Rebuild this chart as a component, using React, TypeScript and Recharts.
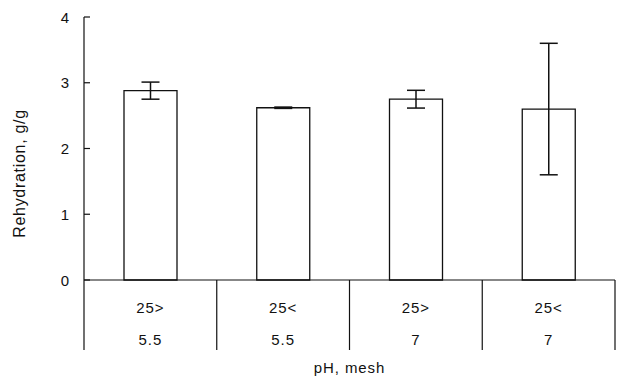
import { BarChart, Bar, ErrorBar, XAxis, YAxis } from "recharts";

const meshLabels = ["25>", "25<", "25>", "25<"];
const phLabels = ["5.5", "5.5", "7", "7"];
const rehydration = [2.88, 2.62, 2.75, 2.6];
const rehydrationErr = [0.13, 0.01, 0.135, 1.0];
const yTicks = [0, 1, 2, 3, 4];

const data = meshLabels.map((mesh, i) => ({
  name: `${mesh} ${phLabels[i]}`,
  mesh,
  ph: phLabels[i],
  value: rehydration[i],
  err: rehydrationErr[i],
}));

const FONT = "'Liberation Sans', Arial, sans-serif";
const INK = "#111";
const textStyle = { fontSize: 15, fontFamily: FONT, fill: INK, letterSpacing: 0.9 };

function CategoryTick(props: any) {
  const { x, y, payload, index } = props;
  const half = payload?.offset ?? 66.4;
  const row = data[index] ?? data[payload?.index ?? 0];
  const last = index === data.length - 1;
  return (
    <g>
      <line x1={x - half} y1={y} x2={x - half} y2={y + 70} stroke={INK} strokeWidth={1.2} />
      {last && (
        <line x1={x + half} y1={y} x2={x + half} y2={y + 70} stroke={INK} strokeWidth={1.2} />
      )}
      <text x={x} y={y + 33} textAnchor="middle" style={textStyle}>
        {row.mesh}
      </text>
      <text x={x} y={y + 65} textAnchor="middle" style={textStyle}>
        {row.ph}
      </text>
    </g>
  );
}

function ValueTick(props: any) {
  const { x, y, payload } = props;
  return (
    <g>
      <line x1={x + 14} y1={y} x2={x + 20} y2={y} stroke={INK} strokeWidth={1.2} />
      <text x={x} y={y + 5.5} textAnchor="end" style={textStyle}>
        {payload.value}
      </text>
    </g>
  );
}

export default function App() {
  return (
    <div style={{ width: 622, height: 383, background: "#fff" }}>
      <style>{"body{margin:0}"}</style>
      <BarChart
        width={622}
        height={383}
        data={data}
        margin={{ top: 17, right: 7, left: 0, bottom: 0 }}
      >
        <XAxis
          dataKey="name"
          height={103}
          tickLine={false}
          tickSize={0}
          tickMargin={0}
          axisLine={{ stroke: INK, strokeWidth: 1.2 }}
          tick={<CategoryTick />}
          interval={0}
          label={{
            content: (p: any) => {
              const vb = p.viewBox;
              return (
                <text
                  x={vb.x + vb.width / 2}
                  y={vb.y + 93}
                  textAnchor="middle"
                  style={textStyle}
                >
                  pH, mesh
                </text>
              );
            },
          }}
        />
        <YAxis
          width={84}
          domain={[0, 4]}
          ticks={yTicks}
          tickLine={false}
          tickSize={0}
          tickMargin={14}
          axisLine={{ stroke: INK, strokeWidth: 1.2 }}
          tick={<ValueTick />}
          label={{
            content: (p: any) => {
              const vb = p.viewBox;
              const cy = vb.y + vb.height / 2 + 25;
              return (
                <text
                  x={25}
                  y={cy}
                  transform={`rotate(-90 25 ${cy})`}
                  textAnchor="middle"
                  style={{ ...textStyle, fontSize: 16, letterSpacing: 0.7 }}
                >
                  Rehydration, g/g
                </text>
              );
            },
          }}
        />
        <Bar
          dataKey="value"
          fill="#fff"
          stroke={INK}
          strokeWidth={1.3}
          barSize={53}
          isAnimationActive={false}
        >
          <ErrorBar dataKey="err" width={9} stroke={INK} strokeWidth={1.5} />
        </Bar>
      </BarChart>
    </div>
  );
}
